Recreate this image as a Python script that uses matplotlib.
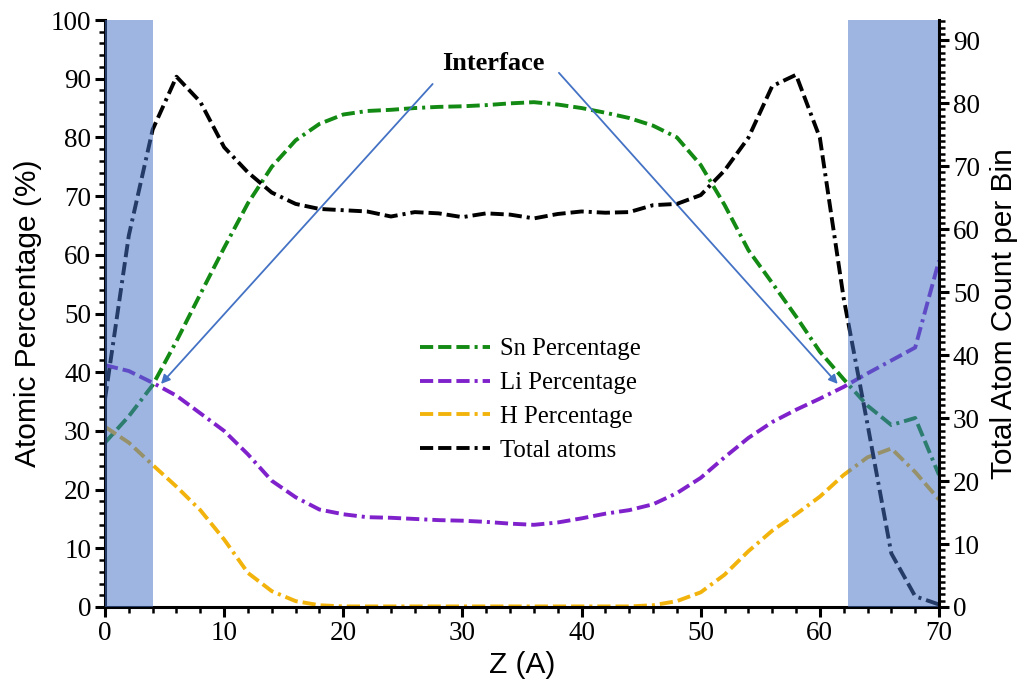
import matplotlib
matplotlib.use("Agg")
import matplotlib.pyplot as plt
from matplotlib.ticker import MultipleLocator

# Depth positions (Angstrom)
z = list(range(0, 72, 2))

sn_pct = [28.0, 32.5, 37.8, 45.3, 53.3, 61.2, 68.8, 75.0, 79.5, 82.3,
          83.9, 84.5, 84.7, 85.0, 85.2, 85.3, 85.5, 85.8, 86.0, 85.6,
          85.0, 84.2, 83.3, 82.0, 80.0, 75.3, 68.5, 60.8, 55.2, 49.5,
          43.5, 38.8, 34.3, 31.0, 32.2, 22.5]

li_pct = [41.2, 40.2, 38.2, 36.0, 33.0, 30.0, 26.0, 21.5, 18.7, 16.6,
          15.8, 15.3, 15.2, 15.0, 14.8, 14.7, 14.5, 14.2, 14.0, 14.4,
          15.1, 15.9, 16.5, 17.5, 19.4, 22.0, 25.5, 28.8, 31.5, 33.6,
          35.5, 37.5, 39.8, 42.0, 44.2, 59.0]

h_pct = [30.7, 28.0, 24.2, 20.5, 16.5, 11.5, 5.8, 2.7, 1.0, 0.3,
         0.1, 0.1, 0.1, 0.1, 0.1, 0.1, 0.1, 0.1, 0.1, 0.1,
         0.1, 0.1, 0.1, 0.3, 1.0, 2.5, 5.5, 9.5, 13.0, 15.8,
         18.8, 22.5, 25.5, 27.0, 23.0, 18.3]

total_atoms = [33.0, 59.0, 75.8, 84.2, 80.2, 73.0, 69.0, 65.8, 64.0, 63.2,
               63.0, 62.8, 62.0, 62.7, 62.5, 61.9, 62.5, 62.3, 61.7, 62.4,
               62.8, 62.6, 62.7, 63.8, 64.0, 65.4, 69.3, 74.5, 82.7, 84.5,
               74.5, 49.0, 29.0, 8.5, 1.7, 0.4]

series_labels = ["Sn Percentage", "Li Percentage", "H Percentage", "Total atoms"]
series_colors = ["#138a13", "#8022cc", "#f2b40c", "#000000"]

# Vacuum / slab edge regions
edge_regions = [(0, 4), (62.4, 70)]

serif = ["Liberation Serif", "DejaVu Serif"]
sans = ["Liberation Sans", "DejaVu Sans"]

plt.rcParams["lines.scale_dashes"] = False
dash_pattern = (9.5, 3.6, 9.5, 3.6, 9.5, 3.6, 2.2, 3.6)

fig = plt.figure(figsize=(10.2, 6.8), dpi=100)
ax = fig.add_axes([105 / 1020, 73 / 680, 834 / 1020, 587 / 680])
ax2 = ax.twinx()

lw = 2.8
lines = []
for vals, col, lab in zip([sn_pct, li_pct, h_pct], series_colors[:3], series_labels[:3]):
    ln, = ax.plot(z, vals, color=col, lw=lw, label=lab)
    ln.set_dashes(dash_pattern)
    lines.append(ln)
ln, = ax2.plot(z, total_atoms, color=series_colors[3], lw=lw, label=series_labels[3])
ln.set_dashes(dash_pattern)
lines.append(ln)

for x0, x1 in edge_regions:
    ax2.axvspan(x0, x1, color="#4472c4", alpha=0.52, lw=0, zorder=5)

ax.set_xlim(0, 70)
ax.set_ylim(0, 100)
ax2.set_ylim(0, 93.2)

for a in (ax, ax2):
    a.spines["top"].set_visible(False)
ax.spines["right"].set_visible(False)
ax2.spines["left"].set_visible(False)
ax2.spines["bottom"].set_visible(False)
for sp in ("left", "bottom"):
    ax.spines[sp].set_linewidth(2.2)
ax2.spines["right"].set_linewidth(2.2)
ax2.spines["right"].set_zorder(10)

ax.xaxis.set_major_locator(MultipleLocator(10))
ax.xaxis.set_minor_locator(MultipleLocator(2))
ax.yaxis.set_major_locator(MultipleLocator(10))
ax.yaxis.set_minor_locator(MultipleLocator(2))
ax2.yaxis.set_major_locator(MultipleLocator(10))
ax2.yaxis.set_minor_locator(MultipleLocator(1))

for a in (ax, ax2):
    a.tick_params(which="major", direction="out", length=7, width=2.2,
                  labelsize=19.5, pad=3)
    a.tick_params(which="minor", direction="out", length=4, width=1.8)
    for lab in a.get_xticklabels() + a.get_yticklabels():
        lab.set_family(serif)

label_size = 21.5
ax.set_xlabel("Z (A)", family=sans, fontsize=label_size)
ax.set_ylabel("Atomic Percentage (%)", family=sans, fontsize=label_size)
ax2.set_ylabel("Total Atom Count per Bin", family=sans, fontsize=label_size)
ax.xaxis.set_label_coords(0.5, -0.075)
ax.yaxis.set_label_coords(-0.076, 0.5)
ax2.yaxis.set_label_coords(1.061, 0.5)

# Interface annotation
arrow_kw = dict(arrowstyle="-|>", color="#4472c4", lw=1.3, mutation_scale=13,
                shrinkA=0, shrinkB=0)
ax.annotate("", xy=(4.7, 38.0), xytext=(27.5, 89.1), arrowprops=arrow_kw, zorder=4)
ax.annotate("", xy=(61.5, 38.0), xytext=(38.1, 91.0), arrowprops=arrow_kw, zorder=4)
ax.text(32.6, 92.6, "Interface", family=serif, fontweight="bold", fontsize=19,
        ha="center", va="center")

ax2.legend(handles=lines, labels=series_labels, loc="center left",
           bbox_to_anchor=(420 / 1020, 1 - 400 / 680), bbox_transform=fig.transFigure,
           frameon=False, prop={"family": serif, "size": 17.8},
           handlelength=2.83, handletextpad=0.4, labelspacing=0.47,
           borderpad=0, borderaxespad=0)

fig.savefig("out.png", dpi=100)
